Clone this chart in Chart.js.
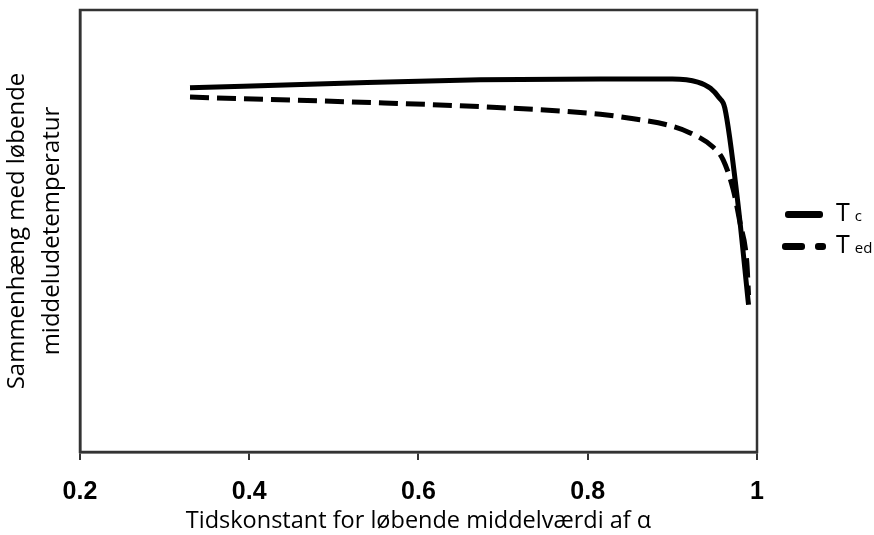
<!DOCTYPE html>
<html>
<head>
<meta charset="utf-8">
<script src="https://cdn.jsdelivr.net/npm/chart.js@4"></script>
<style>
  html, body { margin: 0; padding: 0; background: #fff; }
  #wrap { position: relative; width: 874px; height: 535px; }
  #legend { position: absolute; left: 782px; top: 200px; font-family: 'Open Sans', sans-serif; color: #000; }
  .row { position: relative; height: 32px; }
  .sw { position: absolute; top: 11px; height: 7px; background: #000; border-radius: 3px; }
  .lab { position: absolute; left: 54px; top: -4px; font-size: 25px; line-height: 30px; white-space: nowrap; }
  .lab sub { font-size: 15px; vertical-align: baseline; margin-left: 5px; }
</style>
</head>
<body>
<div id="wrap">
  <canvas id="c" width="874" height="535"></canvas>
  <div id="legend">
    <div class="row"><span class="sw" style="left:3px;width:38px"></span><span class="lab">T<sub>c</sub></span></div>
    <div class="row"><span class="sw" style="left:0;width:23px"></span><span class="sw" style="left:33px;width:11px"></span><span class="lab">T<sub>ed</sub></span></div>
  </div>
</div>
<script>
/* Tc / Ted vs tidskonstant alpha */
const xTicks = [0.2, 0.4, 0.6, 0.8, 1.0];
const xTickLabels = ["0.2", "0.4", "0.6", "0.8", "1"];

const tcX = [0.33, 0.52, 0.673, 0.815, 0.90, 0.93, 0.945, 0.955, 0.962, 0.977, 0.99];
const tcY = [82.4, 83.5, 84.2, 84.4, 84.4, 83.7, 82.3, 80.2, 77.8, 57.0, 33.3];

const tedX = [0.33, 0.52, 0.676, 0.815, 0.854, 0.894, 0.921, 0.948, 0.96, 0.972, 0.98, 0.988, 0.99];
const tedY = [80.3, 79.2, 78.1, 76.4, 75.4, 74.0, 72.2, 69.0, 66.1, 59.3, 51.8, 42.8, 35.5];

const pts = (xs, ys) => xs.map((x, i) => ({ x: x, y: ys[i] }));
const INK = "#000", FRAME = "#333";
const TITLE_FONT = "'Open Sans', sans-serif";

const framePlugin = {
  id: "frame",
  afterDraw(chart) {
    const a = chart.chartArea, ctx = chart.ctx;
    ctx.save();
    ctx.strokeStyle = FRAME;
    ctx.lineWidth = 2.5;
    ctx.strokeRect(a.left, a.top, a.right - a.left, a.bottom - a.top);
    ctx.restore();
  },
};

new Chart(document.getElementById("c"), {
  type: "line",
  data: {
    datasets: [
      { label: "Tc", data: pts(tcX, tcY), borderColor: INK, borderWidth: 5, pointRadius: 0,
        cubicInterpolationMode: "monotone" },
      { label: "Ted", data: pts(tedX, tedY), borderColor: INK, borderWidth: 5, pointRadius: 0,
        borderDash: [19, 8], cubicInterpolationMode: "monotone" },
    ],
  },
  options: {
    responsive: false, animation: false,
    layout: { padding: { top: 10, right: 117, left: 0, bottom: 0 } },
    plugins: { legend: { display: false }, tooltip: { enabled: false } },
    scales: {
      x: {
        type: "linear", min: 0.2, max: 1,
        afterFit: (s) => { s.height = 83; },
        afterBuildTicks: (s) => { s.ticks = xTicks.map((v) => ({ value: v })); },
        grid: { drawOnChartArea: false, drawTicks: true, tickLength: 8, color: FRAME, lineWidth: 2 },
        border: { display: true, color: FRAME, width: 2.5 },
        ticks: {
          color: INK, padding: 17,
          font: { family: "'Liberation Sans', Arial, sans-serif", size: 25, weight: "bold" },
          callback: (v) => xTickLabels[xTicks.indexOf(Math.round(v * 10) / 10)],
        },
        title: {
          display: true, text: "Tidskonstant for løbende middelværdi af α", color: INK,
          font: { family: TITLE_FONT, size: 23.5 }, padding: { top: 0, bottom: 0 },
        },
      },
      y: {
        min: 0, max: 100,
        afterFit: (s) => { s.width = 80; },
        grid: { display: false },
        border: { display: true, color: FRAME, width: 2.5 },
        ticks: { display: false },
        title: {
          display: true, text: ["Sammenhæng med løbende", "middeludetemperatur"], color: INK,
          font: { family: TITLE_FONT, size: 24, lineHeight: 1.45 }, padding: { top: 0, bottom: 0 },
        },
      },
    },
  },
  plugins: [framePlugin],
});
</script>
</body>
</html>
